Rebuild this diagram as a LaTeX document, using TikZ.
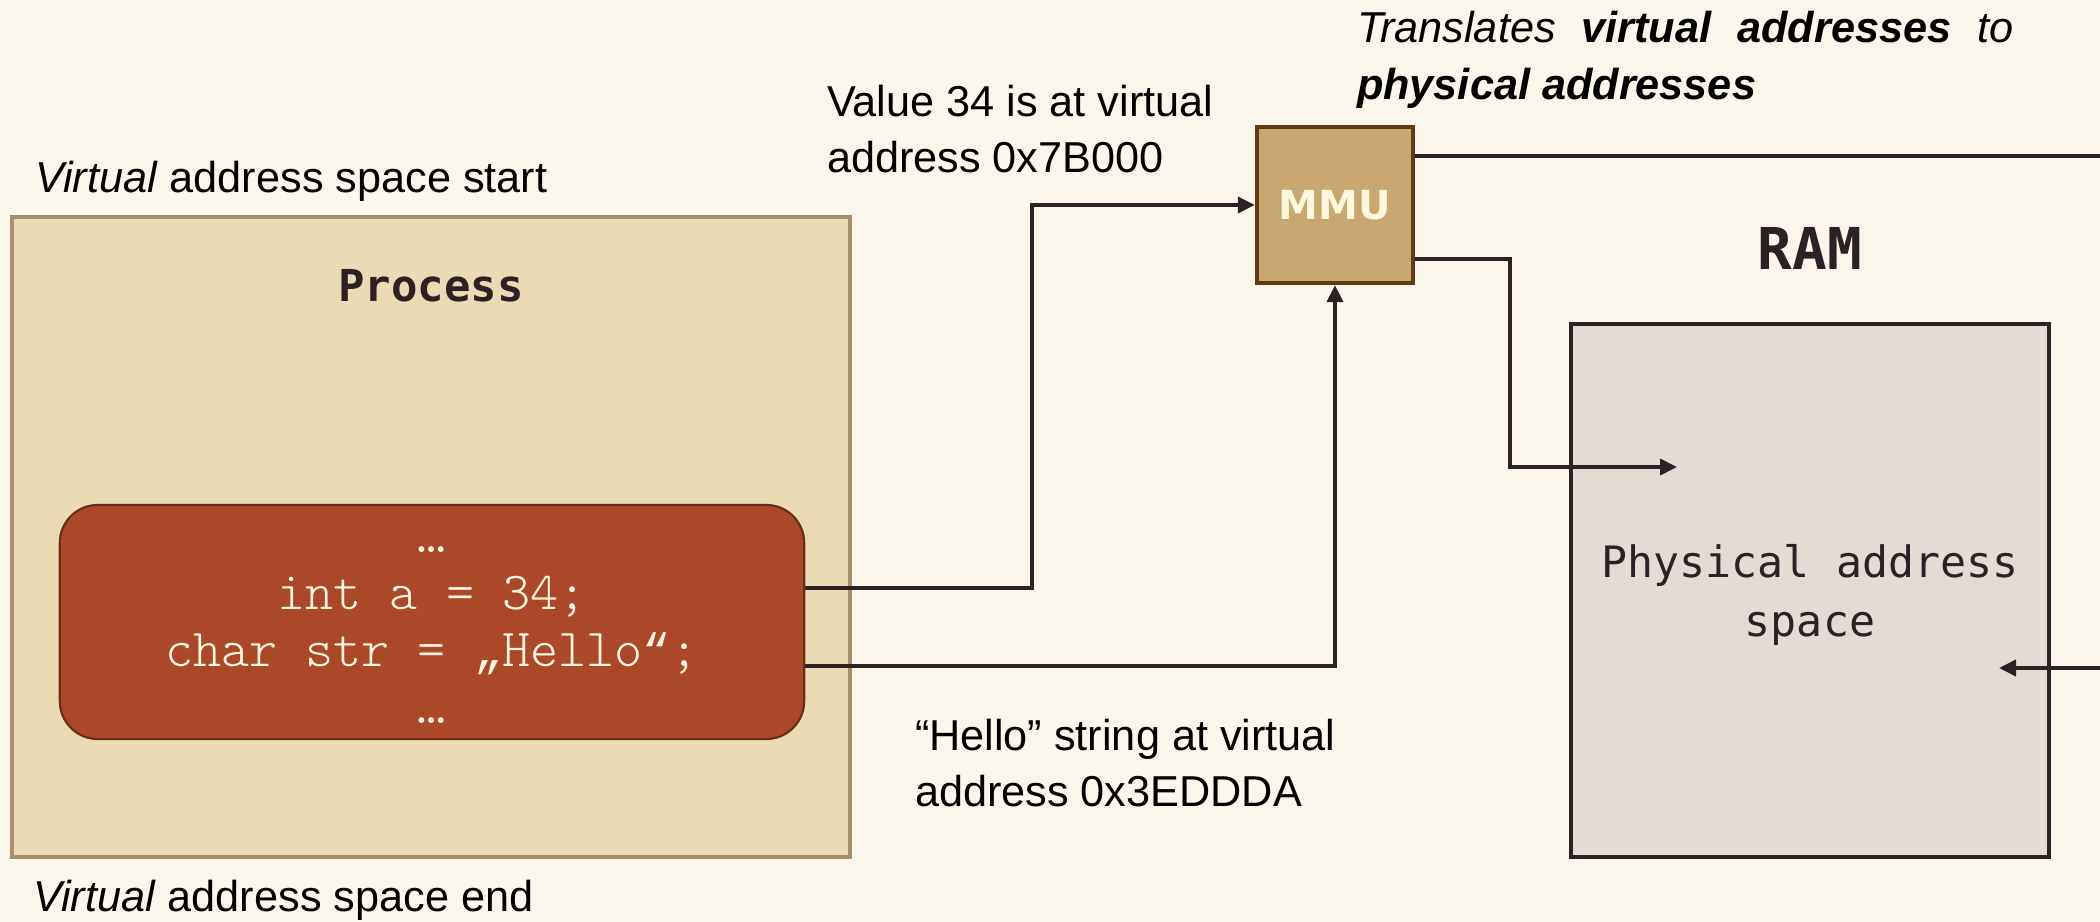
\documentclass[tikz,border=0pt]{standalone}
\usepackage{fontspec}
\setmainfont{Liberation Sans}
\newfontfamily\headmono{DejaVu Sans Mono}
\newfontfamily\chipfont{DejaVu Sans}
\newfontfamily\codemono{Latin Modern Mono Light}
\newfontfamily\quotemono{Liberation Mono}
% curly quotes for the code line, at the same advance width as the code font
\newcommand{\codequote}[1]{{\quotemono\fontsize{13.3}{16.2}\selectfont #1}}
\usetikzlibrary{arrows.meta,calc}

\definecolor{paper}{HTML}{FAF6EC}
\definecolor{procfill}{HTML}{EADBB4}
\definecolor{procline}{HTML}{A88F70}
\definecolor{codefill}{HTML}{AA4828}
\definecolor{codeline}{HTML}{6B2D18}
\definecolor{codetext}{HTML}{FFF6E2}
\definecolor{mmufill}{HTML}{C9A771}
\definecolor{mmuline}{HTML}{623A0E}
\definecolor{mmutext}{HTML}{FFF8DC}
\definecolor{ramfill}{HTML}{E3DCD5}
\definecolor{ink}{HTML}{2E2126}

\tikzset{
  note/.style={inner sep=0pt, outer sep=0pt, anchor=base west, align=left,
    font=\fontsize{12.3}{16.2}\selectfont},
  wire/.style={draw=ink, line width=1.05pt},
  arr/.style={wire, -{Triangle[length=0.17cm, width=0.16cm]}},
  procbox/.style={draw=procline, fill=procfill, line width=1.1pt,
    minimum width=8.38cm, minimum height=6.40cm, inner sep=0pt},
  codebox/.style={draw=codeline, fill=codefill, line width=0.6pt,
    rounded corners=0.38cm, minimum width=7.44cm, minimum height=2.34cm, inner sep=0pt},
  mmubox/.style={draw=mmuline, fill=mmufill, line width=1.2pt,
    minimum width=1.56cm, minimum height=1.56cm, inner sep=0pt,
    text=mmutext, font=\chipfont\bfseries\fontsize{11.4}{14}\selectfont},
  rambox/.style={draw=ink, fill=ramfill, line width=1.3pt,
    minimum width=4.78cm, minimum height=5.33cm, inner sep=0pt},
  title/.style={inner sep=0pt, anchor=base, text=ink,
    font=\headmono\bfseries\fontsize{12.5}{15}\selectfont},
}

\begin{document}
\begin{tikzpicture}[x=0.01cm, y=-0.01cm]
  % canvas
  \fill[paper] (0,0) rectangle (2100,922);
  \useasboundingbox (0,0) rectangle (2100,922);

  % process with its virtual address space
  \node[procbox] (proc) at (431,537) {};
  \node[title] (proctitle) at (431,302) {Process};
  \node[codebox] (code) at (432,622) {};
  % a multi-line node sits on the baseline of its last line
  \node[inner sep=0pt, anchor=base, align=center, text=codetext,
        font=\codemono\fontsize{15.2}{16.2}\selectfont] (codetxt) at (432,723)
       {…\\int a = 34;\\char str = \codequote{„}Hello\codequote{“};\\…};

  \node[note] (vstart) at (35,193) {\textit{Virtual} address space start};
  \node[note] (vend) at (33,911) {\textit{Virtual} address space end};

  % memory management unit
  \node[mmubox] (mmu) at (1335,205) {MMU};
  \node[note, align=justify, text width=6.56cm] (mmunote) at (1357,43)
       {\textit{Translates \textbf{virtual addresses} to \textbf{physical addresses}}};

  % physical memory
  \node[rambox] (ram) at (1810,590.5) {};
  \node[title, font=\headmono\bfseries\fontsize{16.4}{19}\selectfont] (ramtitle) at (1810,270) {RAM};
  \node[inner sep=0pt, anchor=base, align=center, text=ink,
        font=\headmono\fontsize{12.3}{17}\selectfont] (ramtxt) at (1810,637)
       {Physical address\\space};

  % address annotations
  \node[note] (valnote) at (827,173) {Value 34 is at virtual\\address 0x7B000};
  \node[note] (strnote) at (915,807) {“Hello” string at virtual\\address 0x3EDDDA};

  % free ends of connectors
  \coordinate (outTop) at (2100,156);
  \coordinate (ramIn) at (1677,467);
  \coordinate (inRight) at (2100,668);
  \coordinate (ramOut) at (1999,668);

  % connectors
  \draw[arr] ([yshift=0.34cm]code.east) -- ++(227,0) |- (mmu.west);
  \draw[arr] ([yshift=-0.44cm]code.east) -| (mmu.south);
  \draw[wire] ([yshift=0.49cm]mmu.east) -- (outTop);
  \draw[arr] ([yshift=-0.54cm]mmu.east) -- ++(95,0) |- (ramIn);
  \draw[arr] (inRight) -- (ramOut);
\end{tikzpicture}
\end{document}
